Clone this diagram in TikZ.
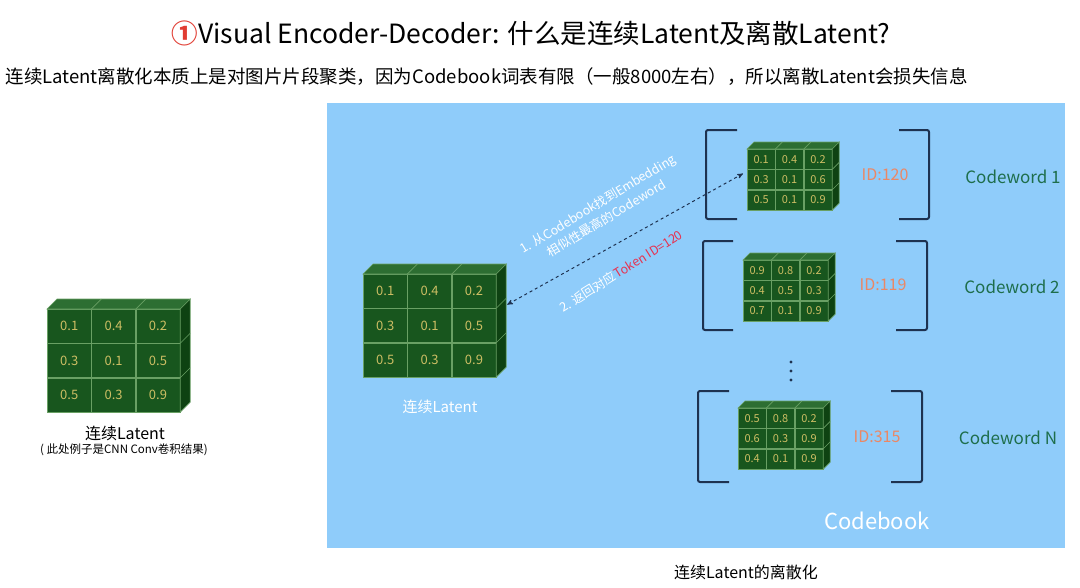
\documentclass[tikz,border=0pt]{standalone}
\usepackage{fontspec}
\setmainfont{Noto Sans CJK SC}
\usepackage{tikz}
\usetikzlibrary{
  arrows,
  matrix,
  positioning,
  calc
}
\definecolor{panelblue}{RGB}{143,204,250}
\definecolor{cubefront}{RGB}{24,86,30}
\definecolor{cubetop}{RGB}{45,110,50}
\definecolor{cubeside}{RGB}{14,66,18}
\definecolor{cubeline}{RGB}{105,160,100}
\definecolor{cubetext}{RGB}{205,190,100}
\definecolor{bracketnavy}{RGB}{30,50,80}
\definecolor{idorange}{RGB}{235,135,100}
\definecolor{wordgreen}{RGB}{30,110,75}
\definecolor{tokenred}{RGB}{230,50,80}
\definecolor{titlered}{RGB}{225,60,50}

% top and side faces of a cube, #1 = matrix name, #2 = depth
\newcommand{\cubefaces}[2]{%
  \draw[cube edge, fill=cubetop] (#1.north west) -- ++(#2,-#2)
     -- ($(#1.north east)+(#2,-#2)$) -- (#1.north east) -- cycle;
  \draw[cube edge, fill=cubeside] (#1.north east) -- ++(#2,-#2)
     -- ($(#1.south east)+(#2,-#2)$) -- (#1.south east) -- cycle;
  \foreach \k in {0.333,0.667} {
     \draw[cube edge] ($(#1.north west)!\k!(#1.north east)$) -- ++(#2,-#2);
     \draw[cube edge] ($(#1.north east)!\k!(#1.south east)$) -- ++(#2,-#2);
  }
}

\begin{document}
\begin{tikzpicture}[
      x=1pt,y=-1pt,
      cell/.style={
         rectangle,
         minimum width=44pt,
         minimum height=34pt,
         inner sep=0pt,
         outer sep=0pt,
         draw=cubeline,
         fill=cubefront,
         text=cubetext,
         font=\fontsize{13}{13}\selectfont
      },
      small cell/.style={
         cell,
         minimum width=28pt,
         minimum height=20pt,
         font=\fontsize{11}{11}\selectfont
      },
      cube/.style={inner sep=0pt, outer sep=0pt, column sep=0pt, row sep=0pt, anchor=north west},
      cube edge/.style={draw=cubeline, line width=0.6pt},
      bracket/.style={draw=bracketnavy, line width=2pt, rounded corners=2pt},
      idlabel/.style={text=idorange, font=\fontsize{16}{16}\selectfont},
      wordlabel/.style={text=wordgreen, font=\fontsize{17}{17}\selectfont},
      steptext/.style={text=white, align=center, font=\fontsize{12.5}{17}\selectfont},
      link/.style={draw=bracketnavy, dashed, line width=1pt, >=stealth'},
    ]
    \fill[white] (0,0) rectangle (1080,587);
    \useasboundingbox (0,0) rectangle (1080,587);

    % title
    \node (title) at (531,33) {\fontsize{26.5}{26.5}\selectfont\textcolor{titlered}{\bfseries ①}Visual Encoder-Decoder: 什么是连续Latent及离散Latent?};
    \node (sub) [anchor=west] at (2,77) {\fontsize{18.5}{18.5}\selectfont 连续Latent离散化本质上是对图片片段聚类，因为Codebook词表有限（一般8000左右），所以离散Latent会损失信息};

    % codebook panel
    \fill[panelblue] (327,103) rectangle (1065,548);

    % left: continuous latent
    \matrix (src) [cube] at (47,309) {
\node (src11) [cell] {0.1}; & \node (src12) [cell] {0.4}; & \node (src13) [cell] {0.2};\\
\node (src21) [cell] {0.3}; & \node (src22) [cell] {0.1}; & \node (src23) [cell] {0.5};\\
\node (src31) [cell] {0.5}; & \node (src32) [cell] {0.3}; & \node (src33) [cell] {0.9};\\
    };
    \cubefaces{src}{10}
    \node (srcname) at (125,433) {\fontsize{16}{16}\selectfont 连续Latent};
    \node (srcnote) at (124,450) {\fontsize{11.5}{11.5}\selectfont ( 此处例子是CNN Conv卷积结果)};

    % middle: latent to be discretised
    \matrix (lat) [cube] at (363,274) {
\node (lat11) [cell] {0.1}; & \node (lat12) [cell] {0.4}; & \node (lat13) [cell] {0.2};\\
\node (lat21) [cell] {0.3}; & \node (lat22) [cell] {0.1}; & \node (lat23) [cell] {0.5};\\
\node (lat31) [cell] {0.5}; & \node (lat32) [cell] {0.3}; & \node (lat33) [cell] {0.9};\\
    };
    \cubefaces{lat}{10}
    \node (latname) [text=white] at (440,407) {\fontsize{15}{15}\selectfont 连续Latent};

    % codewords
    \matrix (cw1) [cube] at (747,149) {
\node (cwa11) [small cell] {0.1}; & \node (cwa12) [small cell] {0.4}; & \node (cwa13) [small cell] {0.2};\\
\node (cwa21) [small cell] {0.3}; & \node (cwa22) [small cell] {0.1}; & \node (cwa23) [small cell] {0.6};\\
\node (cwa31) [small cell] {0.5}; & \node (cwa32) [small cell] {0.1}; & \node (cwa33) [small cell] {0.9};\\
    };
    \cubefaces{cw1}{7}
    \matrix (cw2) [cube] at (743,260) {
\node (cwb11) [small cell] {0.9}; & \node (cwb12) [small cell] {0.8}; & \node (cwb13) [small cell] {0.2};\\
\node (cwb21) [small cell] {0.4}; & \node (cwb22) [small cell] {0.5}; & \node (cwb23) [small cell] {0.3};\\
\node (cwb31) [small cell] {0.7}; & \node (cwb32) [small cell] {0.1}; & \node (cwb33) [small cell] {0.9};\\
    };
    \cubefaces{cw2}{7}
    \matrix (cwn) [cube] at (738,408) {
\node (cwn11) [small cell] {0.5}; & \node (cwn12) [small cell] {0.8}; & \node (cwn13) [small cell] {0.2};\\
\node (cwn21) [small cell] {0.6}; & \node (cwn22) [small cell] {0.3}; & \node (cwn23) [small cell] {0.9};\\
\node (cwn31) [small cell] {0.4}; & \node (cwn32) [small cell] {0.1}; & \node (cwn33) [small cell] {0.9};\\
    };
    \cubefaces{cwn}{7}

    % brackets
    \draw[bracket] (737,130) -- (706,130) -- (706,219) -- (737,219);
    \draw[bracket] (899,130) -- (929,130) -- (929,219) -- (899,219);
    \draw[bracket] (733,241) -- (703,241) -- (703,330) -- (733,330);
    \draw[bracket] (896,241) -- (927,241) -- (927,330) -- (896,330);
    \draw[bracket] (729,391) -- (698,391) -- (698,482) -- (729,482);
    \draw[bracket] (891,391) -- (922,391) -- (922,482) -- (891,482);
    \foreach \dy in {0,9,18}
       \fill[bracketnavy] (791,362+\dy) circle (1.6);

    \node (id1) [idlabel] at (885,175) {ID:120};
    \node (id2) [idlabel] at (883,285) {ID:119};
    \node (idn) [idlabel] at (877,437) {ID:315};
    \node (word1) [wordlabel] at (1013,177) {Codeword 1};
    \node (word2) [wordlabel] at (1012,287) {Codeword 2};
    \node (wordn) [wordlabel] at (1008,438) {Codeword N};
    \node (book) [text=white] at (877,521) {\fontsize{22}{22}\selectfont Codebook};

    % lookup
    \draw[link, <->] ($(lat.east)+(11,-21)$) -- ($(cw1.west)+(-4,-6)$);
    \node (step1) [steptext, rotate=31] at (602,211) {1. 从Codebook找到Embedding\\相似性最高的Codeword};
    \node (step2) [steptext, rotate=32] at (621,271) {2. 返回对应\textcolor{tokenred}{Token ID=120}};

    \node (caption) at (746,572) {\fontsize{16}{16}\selectfont 连续Latent的离散化};
\end{tikzpicture}
\end{document}
